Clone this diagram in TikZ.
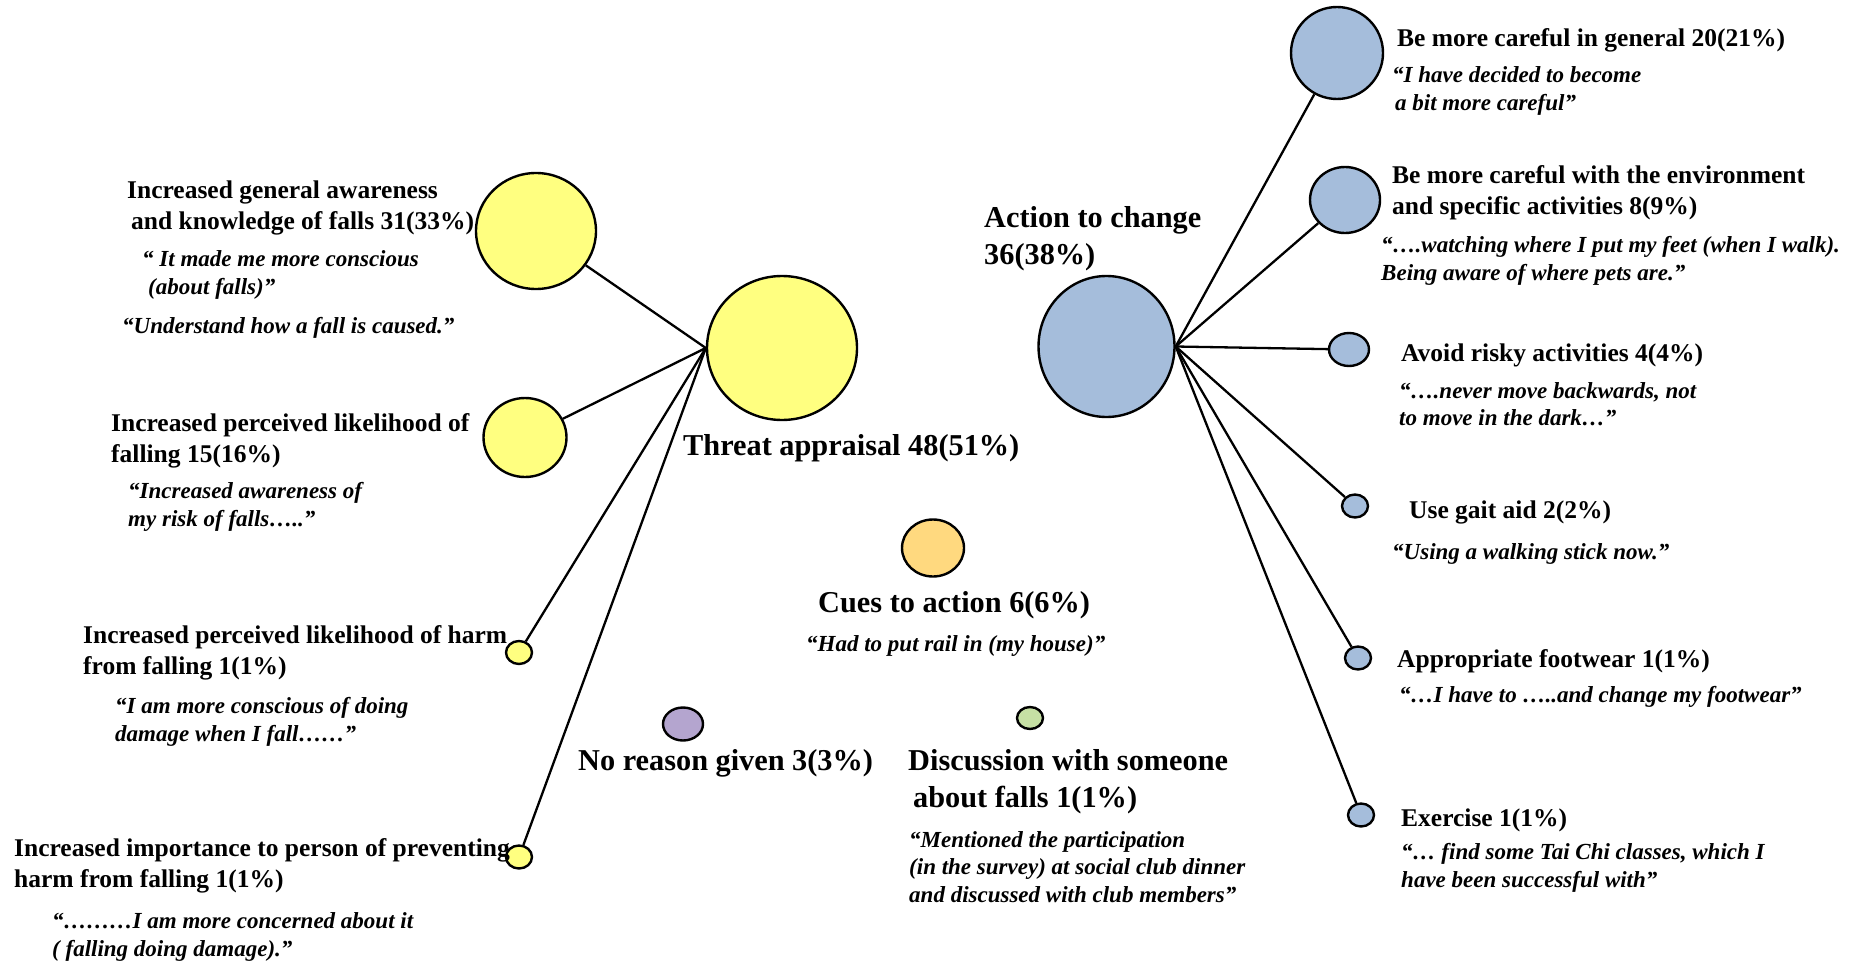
\documentclass[tikz,border=0pt]{standalone}
\usepackage{fontspec}
\setmainfont{Liberation Serif}
\usetikzlibrary{shapes.geometric}
\definecolor{yel}{HTML}{FFFF80}
\definecolor{blu}{HTML}{A5BDDB}
\definecolor{ora}{HTML}{FFD97F}
\definecolor{pur}{HTML}{B4A5CF}
\definecolor{gre}{HTML}{C6E0A4}
\begin{document}
\begin{tikzpicture}[x=1pt,y=-1pt,
 bub/.style={ellipse, draw=black, line width=2.4pt, inner sep=0pt},
 lbl/.style={anchor=west, inner sep=0pt, yshift=-3pt, align=left, font=\fontsize{25.5}{31}\selectfont\bfseries},
 big/.style={anchor=west, inner sep=0pt, yshift=-3pt, align=left, font=\fontsize{30.3}{37}\selectfont\bfseries},
 quo/.style={anchor=west, inner sep=0pt, yshift=-3pt, align=left, font=\fontsize{23}{27.5}\selectfont\bfseries\itshape},
 link/.style={line width=2.3pt}]
\useasboundingbox (0,0) rectangle (1857,963);
% bubbles
\node[bub, fill=yel, minimum width=150pt, minimum height=144pt] (T) at (782,348) {};
\node[bub, fill=yel, minimum width=120pt, minimum height=116pt] (Y1) at (536,231) {};
\node[bub, fill=yel, minimum width=83pt, minimum height=79pt] (Y2) at (525,437.5) {};
\node[bub, fill=yel, minimum width=26pt, minimum height=23pt] (Y3) at (519,652.5) {};
\node[bub, fill=yel, minimum width=26pt, minimum height=23pt] (Y4) at (519,857) {};
\node[bub, fill=blu, minimum width=136pt, minimum height=141pt] (A) at (1106.5,346.5) {};
\node[bub, fill=blu, minimum width=92pt, minimum height=92pt] (B1) at (1337,53) {};
\node[bub, fill=blu, minimum width=70pt, minimum height=66pt] (B2) at (1345,200) {};
\node[bub, fill=blu, minimum width=40pt, minimum height=33pt] (B3) at (1349,349.5) {};
\node[bub, fill=blu, minimum width=26pt, minimum height=23pt] (B4) at (1355,506) {};
\node[bub, fill=blu, minimum width=26pt, minimum height=23pt] (B5) at (1358,658) {};
\node[bub, fill=blu, minimum width=26pt, minimum height=23pt] (B6) at (1361,815) {};
\node[bub, fill=ora, minimum width=62pt, minimum height=57pt] (C) at (933,548) {};
\node[bub, fill=pur, minimum width=40pt, minimum height=33pt] (P) at (683,724) {};
\node[bub, fill=gre, minimum width=26pt, minimum height=22pt] (G) at (1030,718) {};
% connectors
\foreach \n in {Y1,Y2,Y3,Y4} \draw[link] (T.west) -- (\n);
\foreach \n in {B1,B2,B3,B4,B5,B6} \draw[link] (A.east) -- (\n);
% left labels
\node[lbl] (l1) at (127,205) {Increased general awareness\\\hspace*{4pt}and knowledge of falls 31(33\%)};
\node[quo] (q1a) at (142,272) {“ It made me more conscious\\\hspace*{6pt}(about falls)”};
\node[quo] (q1b) at (122,324.5) {“Understand how a fall is caused.”};
\node[lbl] (l2) at (111,438) {Increased perceived likelihood of\\falling 15(16\%)};
\node[quo] (q2) at (128,504) {“Increased awareness of\\my risk of falls…..”};
\node[lbl] (l3) at (83,650) {Increased perceived likelihood of harm\\from falling 1(1\%)};
\node[quo] (q3) at (115,719) {“I am more conscious of doing\\damage when I fall……”};
\node[lbl] (l4) at (14,863) {Increased importance to person of preventing\\harm from falling 1(1\%)};
\node[quo] (q4) at (52,934) {“………I am more concerned about it\\( falling doing damage).”};
% centre labels
\node[big] (tl) at (683,445) {Threat appraisal 48(51\%)};
\node[big] (al) at (984,236) {Action to change\\36(38\%)};
\node[big] (cl) at (818,602) {Cues to action 6(6\%)};
\node[quo] (cq) at (806,643) {“Had to put rail in (my house)”};
\node[big] (nl) at (578,760) {No reason given 3(3\%)};
\node[big] (dl) at (908,779) {Discussion with someone\\\hspace*{5pt}about falls 1(1\%)};
\node[quo] (dq) at (909,864) {“Mentioned the participation\\(in the survey) at social club dinner\\and discussed with club members”};
% right labels
\node[lbl] (r1) at (1397,37) {Be more careful in general 20(21\%)};
\node[quo] (rq1) at (1392,88) {“I have decided to become\\\hspace*{3pt}a bit more careful”};
\node[lbl] (r2) at (1392,189.5) {Be more careful with the environment\\and specific activities 8(9\%)};
\node[quo] (rq2) at (1381,257.6) {“….watching where I put my feet (when I walk).\\Being aware of where pets are.”};
\node[lbl] (r3) at (1401,352) {Avoid risky activities 4(4\%)};
\node[quo] (rq3) at (1399,401) {“….never move backwards, not\\to move in the dark…”};
\node[lbl] (r4) at (1409,509) {Use gait aid 2(2\%)};
\node[quo] (rq4) at (1392,551) {“Using a walking stick now.”};
\node[lbl] (r5) at (1397,658.5) {Appropriate footwear 1(1\%)};
\node[quo] (rq5) at (1399,694) {“…I have to …..and change my footwear”};
\node[lbl] (r6) at (1401,817) {Exercise 1(1\%)};
\node[quo] (rq6) at (1401,865) {“… find some Tai Chi classes, which I\\have been successful with”};
\end{tikzpicture}
\end{document}
